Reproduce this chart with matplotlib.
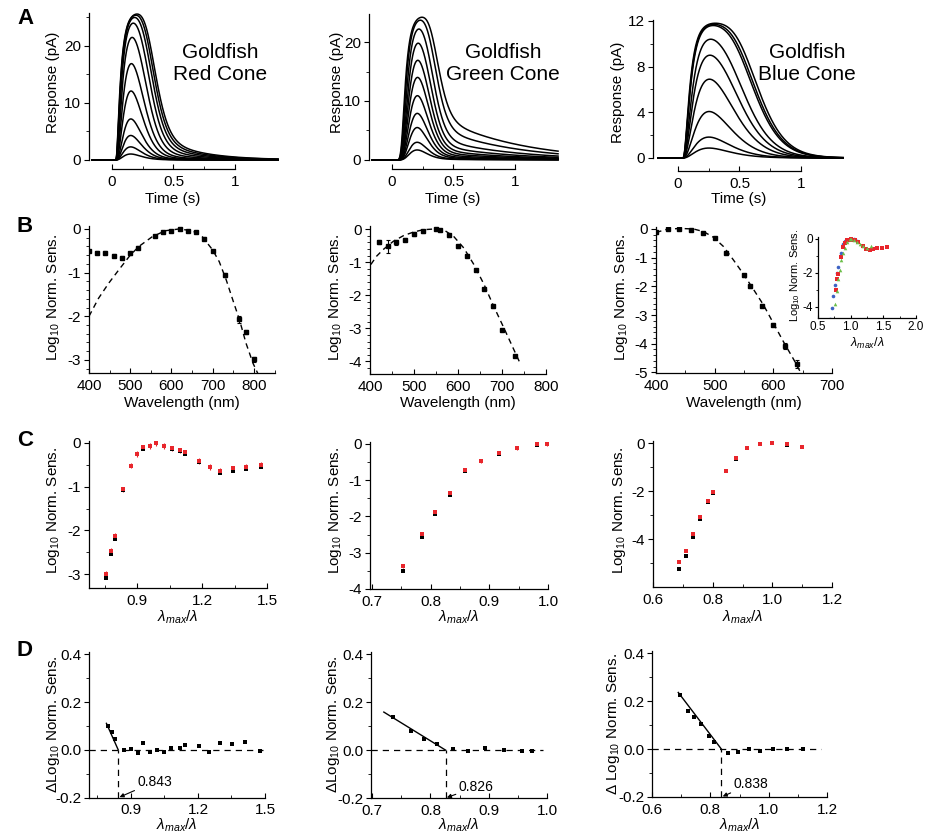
import numpy as np
import matplotlib
matplotlib.use('Agg')
import matplotlib.pyplot as plt
from matplotlib.ticker import FixedLocator, FuncFormatter

plt.rcParams['font.family'] = ['Liberation Sans', 'DejaVu Sans']
plt.rcParams['mathtext.fontset'] = 'custom'
plt.rcParams['mathtext.rm'] = 'Liberation Sans'
plt.rcParams['mathtext.it'] = 'Liberation Sans:italic'
plt.rcParams['mathtext.bf'] = 'Liberation Sans:bold'
plt.rcParams['axes.unicode_minus'] = False

# ---------------- DATA ----------------
cone_names = ["Goldfish\nRed Cone", "Goldfish\nGreen Cone", "Goldfish\nBlue Cone"]

# Row A: peak amplitudes (pA) of flash responses
red_peaks = [1.05, 2.3, 4.3, 7.2, 12.1, 16.9, 21.5, 24.0, 25.0, 25.4, 25.6]
green_peaks = [1.7, 3.0, 5.5, 7.9, 10.9, 14.0, 16.9, 19.8, 22.2, 23.7, 24.2]
blue_peaks = [0.87, 1.83, 4.07, 6.9, 9.0, 10.4, 11.6, 11.7, 11.8]
# response kinetics: Rmax, onset, time to peak, shape, tail amp, tail tau, smoothing
red_kin = [26.0, 0.03, 0.085, 2.0, 0.06, 0.30, 0.035]
green_kin = [24.6, 0.05, 0.12, 4.0, 0.09, 0.57, 0.035]
blue_kin = [11.95, 0.04, 0.16, 1.6, 0.0, 1.0, 0.045]

# Row B: spectral sensitivity
red_wl = [400, 420, 440, 460, 480, 500, 520, 560, 580, 600, 620, 640, 660, 680, 700, 730, 765, 780, 800]
red_sens = [-0.50, -0.54, -0.54, -0.61, -0.66, -0.56, -0.43, -0.15, -0.08, -0.04, 0.0, -0.04, -0.06,
            -0.22, -0.50, -1.06, -2.07, -2.36, -2.99]
red_err = [0.03, 0.03, 0.03, 0.03, 0.03, 0.03, 0.03, 0.02, 0.02, 0.02, 0.02, 0.02, 0.02,
           0.03, 0.03, 0.05, 0.08, 0.05, 0.06]
green_wl = [420, 440, 460, 480, 500, 520, 550, 560, 580, 600, 620, 640, 660, 680, 700, 730]
green_sens = [-0.40, -0.52, -0.40, -0.32, -0.15, -0.07, 0.0, -0.02, -0.19, -0.52, -0.80, -1.24,
              -1.80, -2.33, -3.06, -3.83]
green_err = [0.06, 0.19, 0.07, 0.05, 0.05, 0.05, 0.02, 0.02, 0.04, 0.05, 0.05, 0.03, 0.03, 0.05, 0.03, 0.03]
blue_wl = [400, 420, 440, 460, 480, 500, 520, 550, 560, 580, 600, 620, 640]
blue_sens = [-0.12, -0.01, 0.0, -0.03, -0.13, -0.30, -0.82, -1.62, -2.00, -2.68, -3.34, -4.07, -4.70]
blue_err = [0.04, 0.02, 0.02, 0.02, 0.03, 0.03, 0.04, 0.05, 0.05, 0.05, 0.05, 0.10, 0.14]

# template fits (dashed)
red_fit_wl = [400, 423, 448, 472, 500, 521, 553, 585, 618, 651, 675, 700, 716, 733, 749, 765, 781, 798, 810]
red_fit = [-2.0, -1.59, -1.24, -0.94, -0.60, -0.40, -0.18, -0.04, 0.0, -0.04, -0.18, -0.48, -0.75,
           -1.17, -1.63, -2.08, -2.62, -3.08, -3.32]
green_fit_wl = [402, 415, 430, 453, 476, 499, 521, 544, 567, 590, 613, 636, 659, 681, 704, 723, 742]
green_fit = [-1.07, -0.82, -0.62, -0.37, -0.20, -0.09, -0.02, 0.0, -0.02, -0.22, -0.57, -1.07, -1.67,
             -2.33, -2.98, -3.53, -4.08]
blue_fit_wl = [400, 419, 441, 464, 481, 498, 515, 532, 549, 566, 583, 600, 617, 635, 647]
blue_fit = [-0.12, -0.01, 0.02, 0.0, -0.09, -0.29, -0.61, -1.08, -1.57, -2.10, -2.64, -3.28, -3.92,
            -4.56, -5.02]
lambda_max = [620, 550, 440]
inset_colors = ['#e8262c', '#6cbf4a', '#3d62c4']

# Row C: normalized sensitivity vs lambda_max/lambda (black and red sets)
c1_x = [0.758, 0.778, 0.797, 0.835, 0.874, 0.900, 0.928, 0.958, 0.989, 1.023, 1.062, 1.097, 1.120,
        1.185, 1.235, 1.285, 1.343, 1.405, 1.474]
c1_black = [-3.10, -2.55, -2.20, -1.08, -0.53, -0.26, -0.13, -0.08, 0.0, -0.08, -0.13, -0.19, -0.26,
            -0.44, -0.56, -0.68, -0.65, -0.59, -0.55]
c1_red = [-2.99, -2.47, -2.13, -1.06, -0.52, -0.25, -0.10, -0.07, 0.0, -0.07, -0.12, -0.17, -0.21,
          -0.41, -0.55, -0.63, -0.58, -0.54, -0.50]
c2_x = [0.7525, 0.785, 0.808, 0.833, 0.858, 0.886, 0.916, 0.947, 0.981, 0.998]
c2_black = [-3.50, -2.57, -1.93, -1.41, -0.75, -0.48, -0.27, -0.12, -0.03, 0.0]
c2_red = [-3.36, -2.48, -1.87, -1.34, -0.73, -0.47, -0.24, -0.11, -0.01, 0.0]
c3_x = [0.687, 0.709, 0.734, 0.758, 0.785, 0.801, 0.845, 0.879, 0.916, 0.958, 1.000, 1.048, 1.099]
c3_black = [-5.24, -4.69, -3.91, -3.15, -2.44, -2.08, -1.18, -0.65, -0.21, -0.06, 0.0, -0.07, -0.18]
c3_red = [-4.93, -4.48, -3.79, -3.07, -2.40, -2.05, -1.17, -0.64, -0.20, -0.05, 0.0, -0.06, -0.17]
c_red_err = [0.06, 0.05, 0.05]

# Row D: difference between sets
d1_x = [0.795, 0.815, 0.830, 0.867, 0.900, 0.930, 0.954, 0.984, 1.015, 1.046, 1.080, 1.118, 1.140,
        1.203, 1.248, 1.297, 1.352, 1.412, 1.479]
d1_y = [0.100, 0.073, 0.045, 0.0, 0.003, -0.013, 0.027, -0.007, 0.0, -0.007, 0.006, 0.006, 0.020,
        0.017, -0.008, 0.027, 0.024, 0.032, -0.004]
d2_x = [0.735, 0.766, 0.789, 0.812, 0.838, 0.864, 0.893, 0.926, 0.957, 0.975]
d2_y = [0.137, 0.080, 0.048, 0.024, 0.003, -0.004, 0.008, 0.001, -0.005, -0.003]
d3_x = [0.696, 0.722, 0.745, 0.769, 0.796, 0.811, 0.860, 0.894, 0.931, 0.971, 1.015, 1.064, 1.117]
d3_y = [0.227, 0.161, 0.133, 0.103, 0.055, 0.028, -0.017, -0.011, -0.001, -0.008, 0.0, 0.0, 0.0]
breakpoints = [0.843, 0.826, 0.838]
fit_slopes = [-2.1, -1.5, -1.6]
fit_start = [0.790, 0.720, 0.690]
zero_end = [1.49, 0.993, 1.18]

# ticks
a_xticks = [0, 0.5, 1]
a_xminor = [0.25, 0.75]
a_yticks = [[0, 10, 20], [0, 10, 20], [0, 4, 8, 12]]
a_yminor = [[5, 15, 25], [5, 15], [2, 6, 10]]
b_xticks = [[400, 500, 600, 700, 800], [400, 500, 600, 700, 800], [400, 500, 600, 700]]
b_yticks = [[0, -1, -2, -3], [0, -1, -2, -3, -4], [0, -1, -2, -3, -4, -5]]
c_xticks = [[0.9, 1.2, 1.5], [0.7, 0.8, 0.9, 1.0], [0.6, 0.8, 1.0, 1.2]]
c_xminor = [[0.75, 1.05, 1.35], [0.75, 0.85, 0.95], [0.7, 0.9, 1.1]]
c_yticks = [[0, -1, -2, -3], [0, -1, -2, -3, -4], [0, -2, -4, -6]]
d_yticks = [-0.2, 0.0, 0.2, 0.4]
inset_xticks = [0.5, 1.0, 1.5, 2.0]
inset_yticks = [0, -2, -4]

# ---------------- FIGURE ----------------
W, H = 936, 835
fig = plt.figure(figsize=(W / 100, H / 100), dpi=100)
FS = 11


def px_ax(l, r, t, b):
    return fig.add_axes([l / W, 1 - b / H, (r - l) / W, (b - t) / H])


def fmt_g(v, p):
    return '%g' % v


def fmt_1(v, p):
    return '%.1f' % v


def style(ax, xlim, ylim, xmaj, xmin, ymaj, ymin, xf, yf, fs=FS, xb=None, yb=None):
    ax.set_xlim(xlim)
    ax.set_ylim(ylim)
    for s in ['top', 'right']:
        ax.spines[s].set_visible(False)
    for s in ['left', 'bottom']:
        ax.spines[s].set_linewidth(0.9)
    if xb is not None:
        ax.spines['bottom'].set_bounds(*xb)
    if yb is not None:
        ax.spines['left'].set_bounds(*yb)
    ax.xaxis.set_major_locator(FixedLocator(xmaj))
    ax.xaxis.set_minor_locator(FixedLocator(xmin))
    ax.yaxis.set_major_locator(FixedLocator(ymaj))
    ax.yaxis.set_minor_locator(FixedLocator(ymin))
    ax.xaxis.set_major_formatter(FuncFormatter(xf))
    ax.yaxis.set_major_formatter(FuncFormatter(yf))
    ax.tick_params(axis='x', which='both', direction='in', labelsize=fs, pad=4)
    ax.tick_params(axis='y', which='both', direction='out', labelsize=fs, pad=2)
    ax.tick_params(which='major', length=3.5, width=0.8)
    ax.tick_params(which='minor', length=2, width=0.6)
    ax.patch.set_alpha(0)


def xlabel_px(ax, text, x, y, fs=FS):
    ax.set_xlabel(text, fontsize=fs, va='center')
    ax.xaxis.set_label_coords(x / W, 1 - y / H, transform=fig.transFigure)


def ylabel_px(ax, text, x, y, fs=FS):
    ax.set_ylabel(text, fontsize=fs, va='center')
    ax.yaxis.set_label_coords(x / W, 1 - y / H, transform=fig.transFigure)


# ---- Row A ----
t = np.linspace(-0.16, 1.35, 1512)
dt = t[1] - t[0]


def responses(peaks, kin):
    rmax, t0, tp, n, c, tau, tauf = kin
    d = np.clip(t - t0, 0, None)
    x = d / tp
    k = x ** n * np.exp(n * (1 - x)) + c * (1 - np.exp(-d / 0.06)) * np.exp(-d / tau)
    k = k / k.max()
    h = np.exp(-np.arange(0, 8 * tauf, dt) / tauf)
    h = h / h.sum()

    def resp(a):
        r = rmax * (1 - np.exp(-a * k))
        return np.convolve(r, h)[:len(t)]

    out = []
    for p in peaks:
        lo, hi = -9.0, 6.0
        for _ in range(50):
            mid = 0.5 * (lo + hi)
            if resp(np.exp(mid)).max() < p:
                lo = mid
            else:
                hi = mid
        out.append(resp(np.exp(0.5 * (lo + hi))))
    return out


a_boxes = [(89, 280.5, 12.9, 169), (369, 560.5, 13.7, 169.3), (653, 844, 19.8, 171)]
a_xlims = [(-0.187, 1.37), (-0.187, 1.37), (-0.203, 1.35)]
a_ylims = [(-1.58, 25.8), (-1.58, 24.8), (-1.14, 12.1)]
a_label_x = [53, 337, 618]
a_label_y = [82, 82, 92]
a_time_x = [173, 453, 739]
a_text = [(220, 63), (503, 63), (807, 64)]
for i, (peaks, kin) in enumerate([(red_peaks, red_kin), (green_peaks, green_kin), (blue_peaks, blue_kin)]):
    ax = px_ax(*a_boxes[i])
    for r in responses(peaks, kin):
        ax.plot(t, r, color='k', lw=1.1)
    style(ax, a_xlims[i], a_ylims[i], a_xticks, a_xminor, a_yticks[i], a_yminor[i], fmt_g, fmt_g,
          xb=(0, 1), yb=(0, a_ylims[i][1]))
    ylabel_px(ax, 'Response (pA)', a_label_x[i], a_label_y[i])
    xlabel_px(ax, 'Time (s)', a_time_x[i], 199)
    fig.text(a_text[i][0] / W, 1 - a_text[i][1] / H, cone_names[i], ha='center', va='center',
             fontsize=15, linespacing=1.2)

# ---- Row B ----
b_boxes = [(89, 274.5, 225.5, 373), (370, 546, 226.4, 374), (656, 832, 226.7, 373)]
b_xlims = [(400, 850), (400, 800), (400, 700)]
b_ylims = [(-3.3, 0.08), (-4.38, 0.08), (-5.02, 0.08)]
b_label_x = [53, 335, 622]
b_data = [(red_wl, red_sens, red_err, red_fit_wl, red_fit),
          (green_wl, green_sens, green_err, green_fit_wl, green_fit),
          (blue_wl, blue_sens, blue_err, blue_fit_wl, blue_fit)]
for i, (wl, s, e, fwl, fv) in enumerate(b_data):
    ax = px_ax(*b_boxes[i])
    ax.plot(fwl, fv, color='k', lw=1.0, ls=(0, (4, 3)))
    ax.errorbar(wl, s, yerr=e, fmt='s', ms=3, color='k', ecolor='k', elinewidth=0.8, capsize=1.5,
                capthick=0.8)
    yminor = np.arange(b_ylims[i][0] // 0.2 * 0.2 + 0.2, 0.01, 0.2)
    xmaj = b_xticks[i]
    xmin = [v + 50 for v in xmaj if v + 50 <= b_xlims[i][1]]
    style(ax, b_xlims[i], b_ylims[i], xmaj, xmin, b_yticks[i], yminor, fmt_g, fmt_g)
    ylabel_px(ax, 'Log$_{10}$ Norm. Sens.', b_label_x[i], 297)
    xlabel_px(ax, 'Wavelength (nm)', (b_boxes[i][0] + b_boxes[i][1]) / 2, 403)

# inset
axi = px_ax(818, 916, 237.3, 318)
inset_markers = ['s', '^', 'o']
for k in [2, 0, 1]:
    wl, s = b_data[k][0], b_data[k][1]
    xr = [lambda_max[k] / w for w in wl]
    axi.plot(xr, s, ls='none', marker=inset_markers[k], ms=2.6, color=inset_colors[k], mew=0)
style(axi, (0.5, 2.0), (-4.65, 0.1), inset_xticks, [0.75, 1.25, 1.75], inset_yticks, [-1, -3],
      fmt_1, fmt_g, fs=8.5)
axi.tick_params(which='major', length=2.5)
axi.tick_params(which='minor', length=1.5)
axi.tick_params(axis='x', pad=2)
axi.tick_params(axis='y', pad=1)
ylabel_px(axi, 'Log$_{10}$ Norm. Sens.', 795, 275, fs=8)
xlabel_px(axi, r'$\lambda_{max}/\lambda$', 867, 343, fs=9)

# ---- Row C ----
c_boxes = [(89, 267, 440.8, 588), (370, 548, 441.8, 589), (653, 832, 440.6, 587)]
c_xlims = [(0.678, 1.5), (0.697, 1.0), (0.6, 1.2)]
c_ylims = [(-3.32, 0.05), (-4.0, 0.06), (-5.98, 0.1)]
c_yminor = [[-0.5, -1.5, -2.5], [-0.5, -1.5, -2.5, -3.5], [-1, -3, -5]]
c_label_x = [53, 335, 620]
c_data = [(c1_x, c1_black, c1_red), (c2_x, c2_black, c2_red), (c3_x, c3_black, c3_red)]
for i, (x, yb, yr) in enumerate(c_data):
    ax = px_ax(*c_boxes[i])
    ax.errorbar(x, yr, yerr=c_red_err[i], fmt='s', ms=2.6, color='#e8262c', ecolor='#e8262c',
                elinewidth=0.8, capsize=1.5, capthick=0.8, mew=0)
    ax.plot(x, yb, 's', ms=2.6, color='k', mew=0)
    style(ax, c_xlims[i], c_ylims[i], c_xticks[i], c_xminor[i], c_yticks[i], c_yminor[i], fmt_1, fmt_g)
    ylabel_px(ax, 'Log$_{10}$ Norm. Sens.', c_label_x[i], 510)
    xlabel_px(ax, r'$\lambda_{max}/\lambda$', (c_boxes[i][0] + c_boxes[i][1]) / 2, 617)

# ---- Row D ----
d_boxes = [(89, 265, 652, 797.7), (371, 547, 652, 798), (652, 827, 651, 797)]
d_xlims = [(0.712, 1.5), (0.698, 1.0), (0.6, 1.2)]
d_label_x = [53, 334, 614]
d_labels = ['ΔLog$_{10}$ Norm. Sens.', 'ΔLog$_{10}$ Norm. Sens.', 'Δ Log$_{10}$ Norm. Sens.']
d_offsets = [(19, 16), (13, 11), (12, 13)]
d_data = [(d1_x, d1_y), (d2_x, d2_y), (d3_x, d3_y)]
for i, (x, y) in enumerate(d_data):
    ax = px_ax(*d_boxes[i])
    bp = breakpoints[i]
    xl = d_xlims[i]
    ax.plot([xl[0], zero_end[i]], [0, 0], color='k', lw=0.9, ls=(0, (5, 4)))
    ax.plot([bp, bp], [-0.2, 0], color='k', lw=0.9, ls=(0, (5, 4)))
    xs = np.array([fit_start[i], bp])
    ax.plot(xs, fit_slopes[i] * (xs - bp), color='k', lw=1.0)
    ax.plot(x, y, 's', ms=3, color='k', mew=0)
    style(ax, xl, (-0.2, 0.41), c_xticks[i], c_xminor[i], d_yticks, [-0.1, 0.1, 0.3], fmt_1, fmt_1)
    ax.annotate('%.3f' % bp, xy=(bp, -0.2), xytext=d_offsets[i], textcoords='offset pixels',
                ha='left', va='center', fontsize=10,
                arrowprops=dict(arrowstyle='-|>', color='k', lw=0.8, mutation_scale=6,
                                shrinkA=0, shrinkB=1))
    ylabel_px(ax, d_labels[i], d_label_x[i], 724)
    xlabel_px(ax, r'$\lambda_{max}/\lambda$', (d_boxes[i][0] + d_boxes[i][1]) / 2, 825)

# panel letters
for letter, (x, y) in zip('ABCD', [(25, 18), (25, 226), (25, 441), (25, 651)]):
    fig.text(x / W, 1 - y / H, letter, fontsize=16, fontweight='bold', ha='center', va='center')

fig.savefig('out.png', dpi=100)
